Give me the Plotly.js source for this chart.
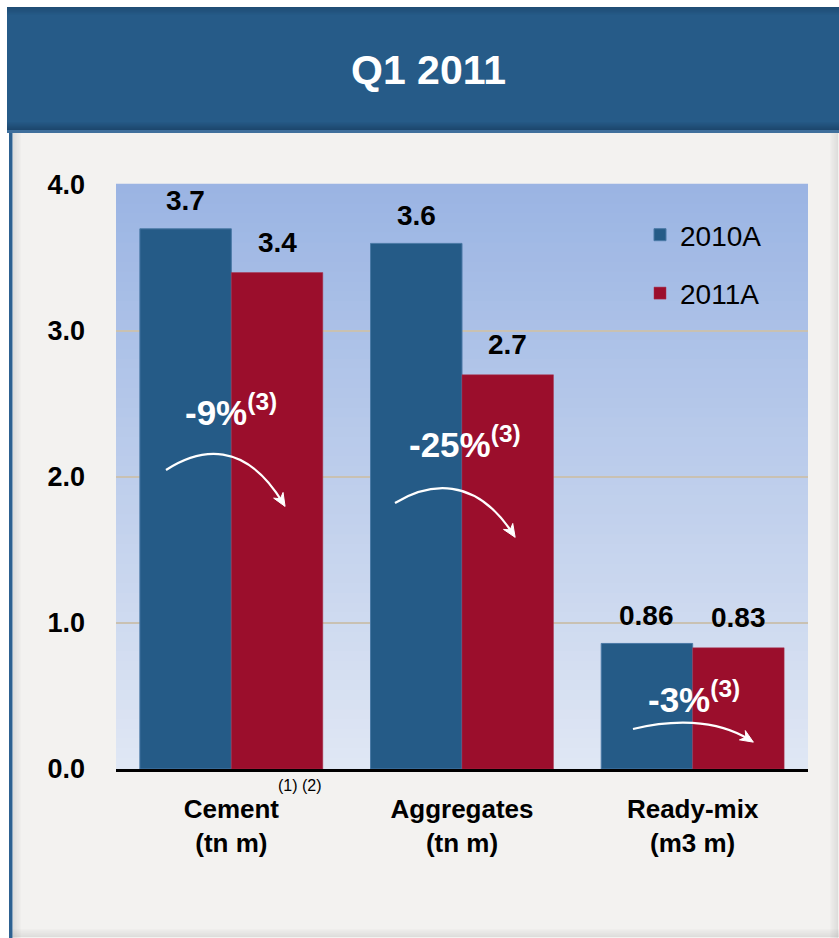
<!DOCTYPE html>
<html>
<head>
<meta charset="utf-8">
<script src="https://cdn.plot.ly/plotly-3.0.1.min.js"></script>
<style>
  html, body { margin: 0; padding: 0; background: #ffffff; }
  #chart { width: 839px; height: 938px; }
</style>
</head>
<body>
<div id="chart"></div>
<script>
// ---- data ----
const categories = ['Cement<br>(tn m)', 'Aggregates<br>(tn m)', 'Ready-mix<br>(m3 m)'];
const seriesNames = ['2010A', '2011A'];
const values2010 = [3.7, 3.6, 0.86];
const values2011 = [3.4, 2.7, 0.83];
const labels2010 = ['3.7', '3.6', '0.86'];
const labels2011 = ['3.4', '2.7', '0.83'];
const changeLabels = ['-9%', '-25%', '-3%'];
const changeNote = '(3)';
const yTickVals = [0, 1, 2, 3, 4];
const yTickText = ['0.0', '1.0', '2.0', '3.0', '4.0'];
const titleText = 'Q1 2011';
const footnoteText = '(1) (2)';

// ---- geometry / style ----
const W = 839, H = 938;
const M = {l: 116, r: 31, t: 185, b: 169};
const PW = W - M.l - M.r, PH = H - M.t - M.b;
const px = x => (x - M.l) / PW;          // page px -> paper x
const py = y => (H - M.b - y) / PH;      // page px -> paper y
const FONT = 'Liberation Sans, Arial, sans-serif';
const BLUE = '#255b87', RED = '#9b0e2c';
const BARGAP = 0.207;
const halfBar = (PW / 3) * (1 - BARGAP) / 4;  // pixel offset of each bar centre

const shapes = [];
const rect = (x0, x1, y0, y1, fill) => shapes.push({type: 'rect', xref: 'paper', yref: 'paper',
  x0: px(x0), x1: px(x1), y0: py(y1), y1: py(y0), fillcolor: fill, line: {width: 0}, layer: 'below'});
// grey panel
rect(9, W, 7, H, '#f3f2f0');
// panel shadows (right, bottom, left)
for (let i = 0; i < 8; i++) {
  const a = 0.03 + i * 0.02;
  rect(830 + i, 831 + i, 130, H, `rgba(120,120,120,${a})`);
  rect(9, W, 929 + i, 930 + i, `rgba(120,120,120,${a})`);
  rect(20 - i, 21 - i, 130, H, `rgba(120,120,120,${a})`);
}
// left blue border
rect(9, 12.5, 7, H, '#2d6191');
// header band
rect(7, W, 7, 130, '#265b88');
for (let i = 0; i < 8; i++) {
  const a = 0.32 - i * 0.04;
  rect(7, W, 129 - i, 130 - i, `rgba(10,30,55,${a})`);
  rect(7, W, 7 + i, 8 + i, `rgba(10,30,55,${a * 0.7})`);
}
rect(7, W, 130, 133, '#3f6f9c');
// plot-area gradient
const NB = 60, gradTop = [154, 180, 227], gradBot = [224, 231, 244];
for (let i = 0; i < NB; i++) {
  const t = (i + 0.5) / NB;
  const c = gradTop.map((v, k) => Math.round(v + (gradBot[k] - v) * t));
  shapes.push({type: 'rect', xref: 'paper', yref: 'paper', x0: 0, x1: 1,
    y0: 1 - (i + 1) / NB, y1: 1 - i / NB + 0.002,
    fillcolor: `rgb(${c.join(',')})`, line: {width: 0}, layer: 'below'});
}

// curved change arrows (decoration, page px)
const arrowCurves = [
  [[166, 470], [200, 448], [245, 440], [283, 503]],
  [[395, 503], [428, 483], [475, 475], [513, 534]],
  [[633, 729], [670, 720], [715, 718], [750, 740]]
];
const P = q => `${px(q[0])},${py(q[1])}`;
arrowCurves.forEach(c => {
  shapes.push({type: 'path', xref: 'paper', yref: 'paper', layer: 'above',
    path: `M${P(c[0])} C${P(c[1])} ${P(c[2])} ${P(c[3])}`, line: {color: '#ffffff', width: 2.2}});
  const dx = c[3][0] - c[2][0], dy = c[3][1] - c[2][1], L = Math.hypot(dx, dy);
  const ux = dx / L, uy = dy / L, nx = -uy, ny = ux;
  const tip = [c[3][0] + ux * 4, c[3][1] + uy * 4];
  const b = [tip[0] - ux * 13, tip[1] - uy * 13];
  const p1 = [b[0] + nx * 5.5, b[1] + ny * 5.5], p2 = [b[0] - nx * 5.5, b[1] - ny * 5.5];
  const notch = [tip[0] - ux * 9, tip[1] - uy * 9];
  shapes.push({type: 'path', xref: 'paper', yref: 'paper', layer: 'above',
    path: `M${P(tip)} L${P(p1)} L${P(notch)} L${P(p2)} Z`, fillcolor: '#ffffff', line: {color: '#ffffff', width: 1}});
});

const annotations = [];
// value labels
categories.forEach((cat, i) => {
  annotations.push({x: cat, y: values2010[i], xref: 'x', yref: 'y', xshift: -halfBar, yshift: 28,
    text: labels2010[i], showarrow: false, yanchor: 'middle',
    font: {family: FONT, size: 28, color: '#000', weight: 'bold'}});
  annotations.push({x: cat, y: values2011[i], xref: 'x', yref: 'y', xshift: halfBar, yshift: 30,
    text: labels2011[i], showarrow: false, yanchor: 'middle',
    font: {family: FONT, size: 28, color: '#000', weight: 'bold'}});
});

// change labels (positions in page px)
const changePos = [[231, 410], [465, 442], [694, 697]];
changeLabels.forEach((t, i) => {
  annotations.push({xref: 'paper', yref: 'paper', x: px(changePos[i][0]), y: py(changePos[i][1]),
    text: `${t}<sup>${changeNote}</sup>`, showarrow: false, xanchor: 'center', yanchor: 'middle',
    font: {family: FONT, size: 35, color: '#ffffff', weight: 'bold'}});
});

// title & footnote
annotations.push({xref: 'paper', yref: 'paper', x: px(428), y: py(70), text: titleText, showarrow: false,
  xanchor: 'center', yanchor: 'middle', font: {family: FONT, size: 41, color: '#ffffff', weight: 'bold'}});
annotations.push({xref: 'paper', yref: 'paper', x: px(300), y: py(785), text: footnoteText, showarrow: false,
  xanchor: 'center', yanchor: 'middle', font: {family: FONT, size: 16, color: '#000'}});

const traces = [
  {type: 'bar', name: seriesNames[0], x: categories, y: values2010, legendgroup: 'a',
   marker: {color: BLUE, line: {color: '#4a79a6', width: 1}}, hoverinfo: 'x+y'},
  {type: 'bar', name: seriesNames[1], x: categories, y: values2011, legendgroup: 'b',
   marker: {color: RED, line: {color: '#a8324c', width: 0.5}}, hoverinfo: 'x+y'}
];

const layout = {
  width: W, height: H,
  margin: M,
  paper_bgcolor: '#ffffff',
  plot_bgcolor: 'rgba(0,0,0,0)',
  barmode: 'group', bargap: BARGAP, bargroupgap: 0,
  font: {family: FONT, color: '#000'},
  showlegend: true,
  legend: {x: px(640), y: py(210), xanchor: 'left', yanchor: 'top', bgcolor: 'rgba(0,0,0,0)',
    font: {family: FONT, size: 28, color: '#000'}, tracegroupgap: 19, itemwidth: 30},
  xaxis: {type: 'category', showgrid: false, showline: true, linecolor: '#000', linewidth: 3,
    ticks: '', ticklabelstandoff: 15, fixedrange: true,
    tickfont: {family: FONT, size: 26, color: '#000', weight: 'bold'}},
  yaxis: {range: [0, 4], tickvals: yTickVals, ticktext: yTickText, showgrid: true,
    gridcolor: '#c9c1b2', gridwidth: 2, zeroline: false, showline: false, ticks: '',
    ticklabelstandoff: 30, fixedrange: true,
    tickfont: {family: FONT, size: 27, color: '#000', weight: 'bold'}},
  shapes: shapes,
  annotations: annotations
};

Plotly.newPlot('chart', traces, layout, {displayModeBar: false, staticPlot: true});
</script>
</body>
</html>
